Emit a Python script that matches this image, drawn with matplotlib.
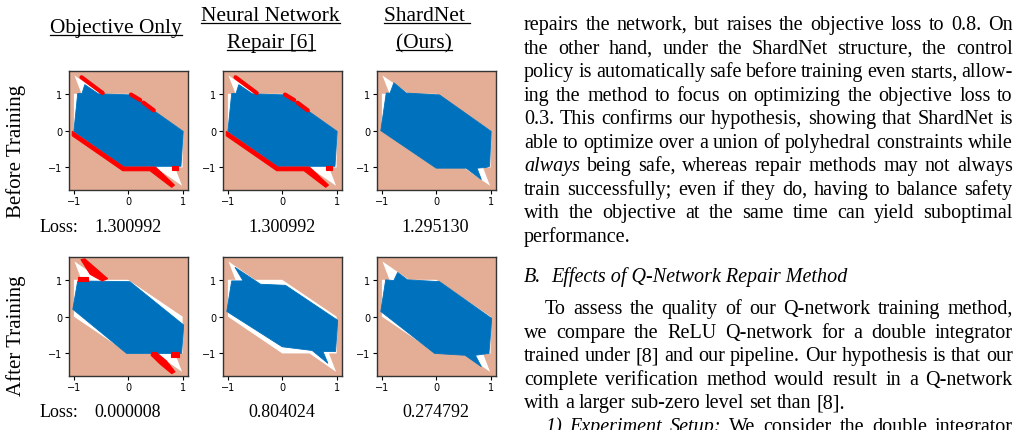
import numpy as np
import matplotlib
matplotlib.use('Agg')
import matplotlib.pyplot as plt
from matplotlib.lines import Line2D

# ---- data ----
# safe set: union of polyhedra (hexagon + two thin spikes), outline
safe_x = [-1.0, 0.0, 0.50, 0.99, 0.86, 1.0, 1.0, 0.0, -0.50, -0.99, -0.86, -1.0]
safe_y = [0.0, -1.0, -1.0, -1.50, -1.0, -1.0, 0.0, 1.0, 1.0, 1.50, 1.0, 1.0]

# outline of the blue (policy output) cloud in each panel
blue_before_obj = [(-1.0, -0.02), (-0.93, 1.01), (-0.85, 1.01), (-0.80, 1.25), (-0.55, 1.0),
                   (0.06, 0.97), (1.01, -0.02), (0.97, -0.97), (-0.08, -0.97)]
blue_before_rep = blue_before_obj
blue_before_shard = [(-1.02, 0.0), (-0.92, 1.02), (-0.85, 1.02), (-0.78, 1.30), (-0.55, 1.02),
                     (0.06, 0.97), (1.01, -0.02), (0.98, -0.97), (0.92, -1.0), (0.75, -1.02),
                     (0.83, -1.33), (0.55, -1.02), (0.0, -1.02)]
blue_after_obj = [(-1.02, 0.2), (-0.93, 0.97), (0.03, 0.95), (1.02, -0.23), (0.98, -1.0),
                  (-0.03, -1.0)]
blue_after_rep = [(-1.02, 0.14), (-0.93, 0.97), (-0.72, 0.97), (-0.87, 1.34), (-0.4, 0.88),
                  (0.06, 0.85), (1.02, -0.1), (0.98, -0.95), (0.75, -0.95), (0.84, -1.27),
                  (0.55, -0.92), (0.0, -0.82)]
blue_after_shard = [(-1.02, 0.14), (-0.93, 1.0), (-0.78, 0.98), (-0.71, 1.2), (-0.53, 1.0),
                    (0.06, 0.95), (1.02, -0.05), (0.97, -1.0), (0.72, -1.05), (0.83, -1.36),
                    (0.53, -1.05), (-0.03, -1.0)]

# unsafe (red) points: thin strips and blobs
red_strips_before = [[(-0.86, 1.45), (-0.47, 1.02)],
                     [(0.05, 0.98), (0.22, 0.83)],
                     [(0.28, 0.76), (0.47, 0.55)]]
red_blobs_before = [[(-1.03, -0.02), (-0.08, -0.99), (0.50, -0.99), (0.85, -1.48), (0.80, -1.54),
                     (0.40, -1.09), (-0.10, -1.09), (-1.03, -0.14)],
                    [(0.80, -0.97), (0.92, -0.97), (0.92, -1.07), (0.80, -1.07)]]
red_blobs_after_obj = [[(-0.87, 1.55), (-0.80, 1.57), (-0.55, 1.25), (-0.38, 1.03), (-0.48, 0.97),
                        (-0.70, 1.15)],
                       [(-0.93, 1.08), (-0.74, 1.08), (-0.74, 0.97), (-0.93, 0.97)],
                       [(0.44, -0.97), (0.52, -0.98), (0.70, -1.2), (0.86, -1.50), (0.80, -1.55),
                        (0.58, -1.28), (0.42, -1.05)],
                       [(0.78, -0.97), (0.93, -0.97), (0.93, -1.1), (0.78, -1.1)]]

col_titles = [["Objective Only"], ["Neural Network", "Repair [6]"], ["ShardNet ", "(Ours)"]]
row_labels = ["Before Training", "After Training"]
losses = [[1.300992, 1.300992, 1.295130],
          [0.000008, 0.804024, 0.274792]]

body_lines = [
    "repairs the network, but raises the objective loss to 0.8. On",
    "the other hand, under the ShardNet structure, the control",
    "policy is automatically safe before training even starts, allow-",
    "ing the method to focus on optimizing the objective loss to",
    "0.3. This confirms our hypothesis, showing that ShardNet is",
    "able to optimize over a union of polyhedral constraints while",
    "*always* being safe, whereas repair methods may not always",
    "train successfully; even if they do, having to balance safety",
    "with the objective at the same time can yield suboptimal",
    "performance.",
]
heading = ["B.", "Effects of Q-Network Repair Method"]
body_lines2 = [
    "To assess the quality of our Q-network training method,",
    "we compare the ReLU Q-network for a double integrator",
    "trained under [8] and our pipeline. Our hypothesis is that our",
    "complete verification method would result in a Q-network",
    "with a larger sub-zero level set than [8].",
    "*1)* *Experiment* *Setup:* We consider the double integrator",
]

# ---- figure ----
W, H = 1021, 431
fig = plt.figure(figsize=(W / 100, H / 100), dpi=100)
renderer = fig.canvas.get_renderer()

def fx(px):
    return px / W

def fy(py):
    return 1 - py / H

salmon = '#E3AE95'
blue = '#0072BD'
red = '#FF0000'
serif = 'Liberation Serif'

blues = [[blue_before_obj, blue_before_rep, blue_before_shard],
         [blue_after_obj, blue_after_rep, blue_after_shard]]
reds = [[(red_strips_before, red_blobs_before), (red_strips_before, red_blobs_before), ([], [])],
        [([], red_blobs_after_obj), ([], []), ([], [])]]

lefts = [69, 223, 377]
tops = [72, 258]
aw, ah = 118.5, 118.5

for r in range(2):
    for c in range(3):
        ax = fig.add_axes([fx(lefts[c]), fy(tops[r] + ah), aw / W, ah / H])
        ax.set_facecolor(salmon)
        ax.fill(safe_x, safe_y, color='white', lw=0)
        bx, by = zip(*blues[r][c])
        ax.fill(bx, by, color=blue, lw=0.6, ec=blue)
        strips, blobs = reds[r][c]
        for s in strips:
            sx, sy = zip(*s)
            ax.plot(sx, sy, color=red, lw=3, solid_capstyle='round')
        for b in blobs:
            px, py = zip(*b)
            ax.fill(px, py, color=red, lw=0.8, ec=red)
        ax.set_xlim(-1.09, 1.09)
        ax.set_ylim(-1.6, 1.62)
        ax.set_xticks([-1, 0, 1])
        ax.set_yticks([-1, 0, 1])
        ax.tick_params(labelsize=7, length=3, width=0.8, pad=2)
        for sp in ax.spines.values():
            sp.set_color('#333333')
            sp.set_linewidth(1)

# column titles, underlined
title_pos = [[(50, 33.5)], [(201, 21), (227, 48)], [(384, 21), (396, 48)]]
for c in range(3):
    for line, (x, y) in zip(col_titles[c], title_pos[c]):
        t = fig.text(fx(x), fy(y), line, fontsize=15.4, family=serif, ha='left', va='baseline')
        wpx = t.get_window_extent(renderer).width
        fig.add_artist(Line2D([fx(x), fx(x + wpx)], [fy(y + 2.5), fy(y + 2.5)],
                              transform=fig.transFigure, color='black', lw=0.9))

# row labels
for text, yc in zip(row_labels, [151, 336]):
    fig.text(fx(16), fy(yc), text, fontsize=15, family=serif, rotation=90,
             ha='center', va='center')

# losses
col_centers = [128, 282, 435.5]
for r, yb in enumerate([231.7, 416.7]):
    fig.text(fx(40), fy(yb), "Loss:", fontsize=13, family=serif, va='baseline')
    for c in range(3):
        fig.text(fx(col_centers[c]), fy(yb), "%.6f" % losses[r][c], fontsize=13,
                 family=serif, ha='center', va='baseline')

# right column, justified text
body_fs = 14.5
x_left, x_right = 524, 1012.7

def measure(s, style='normal'):
    t = fig.text(0, 0, s, fontsize=body_fs, family=serif, style=style)
    w = t.get_window_extent(renderer).width
    t.remove()
    return w

space_w = measure("a a") - measure("aa")

def put_line(line, x0, base, justify):
    arts = []
    for w in line.split(' '):
        style = 'normal'
        if w.startswith('*') and w.endswith('*'):
            w, style = w[1:-1], 'italic'
        arts.append(fig.text(0, fy(base), w, fontsize=body_fs, family=serif, style=style,
                             va='baseline', ha='left'))
    widths = [t.get_window_extent(renderer).width for t in arts]
    gap = space_w
    if justify and len(arts) > 1:
        gap = (x_right - x0 - sum(widths)) / (len(arts) - 1)
    x = x0
    for t, w in zip(arts, widths):
        t.set_x(fx(x))
        x += w + gap

for i, line in enumerate(body_lines):
    put_line(line, x_left, 30 + 23.55 * i, i < len(body_lines) - 1)

fig.text(fx(x_left), fy(282.3), heading[0], fontsize=body_fs, family=serif, style='italic',
         va='baseline')
fig.text(fx(551.7), fy(282.3), heading[1], fontsize=body_fs, family=serif, style='italic',
         va='baseline')

for j, line in enumerate(body_lines2):
    x0 = x_left + 21 if j in (0, 5) else x_left
    put_line(line, x0, 314 + 23.6 * j, j != 4)

fig.savefig('out.png', dpi=100)
